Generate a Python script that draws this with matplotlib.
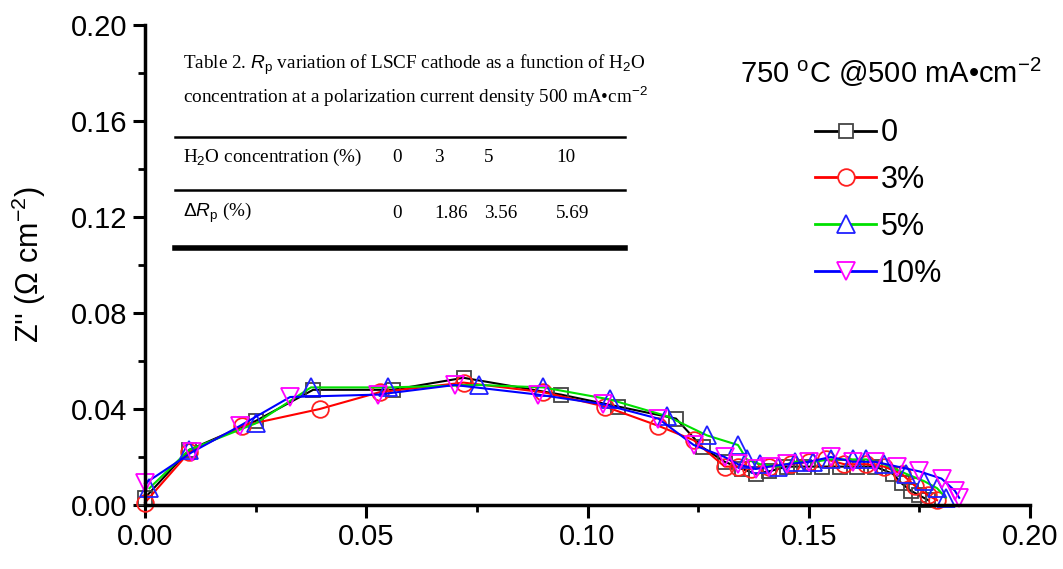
import matplotlib
matplotlib.use("Agg")
import matplotlib.pyplot as plt
from matplotlib.ticker import MultipleLocator, FormatStrFormatter
from matplotlib.lines import Line2D

plt.rcParams['font.family'] = ['Liberation Sans', 'DejaVu Sans']
plt.rcParams['mathtext.fontset'] = 'custom'
plt.rcParams['mathtext.rm'] = 'Liberation Sans'
plt.rcParams['mathtext.it'] = 'Liberation Sans:italic'

# ---------------- data ----------------
x_0 = [0.000, 0.010, 0.025, 0.038, 0.056, 0.072, 0.094, 0.107, 0.120, 0.126, 0.131,
       0.135, 0.138, 0.141, 0.145, 0.149, 0.153, 0.157, 0.161, 0.165, 0.169, 0.171,
       0.173, 0.175, 0.177]
y_0 = [0.003, 0.023, 0.035, 0.048, 0.048, 0.053, 0.046, 0.041, 0.036, 0.024, 0.018,
       0.015, 0.013, 0.014, 0.016, 0.016, 0.016, 0.016, 0.016, 0.016, 0.013, 0.009,
       0.006, 0.004, 0.002]

x_3 = [0.000, 0.010, 0.022, 0.0395, 0.053, 0.072, 0.090, 0.104, 0.116, 0.124, 0.131,
       0.134, 0.137, 0.141, 0.146, 0.150, 0.154, 0.158, 0.163, 0.167, 0.171, 0.174,
       0.177, 0.179]
y_3 = [0.001, 0.022, 0.033, 0.040, 0.047, 0.051, 0.047, 0.041, 0.033, 0.027, 0.016,
       0.016, 0.015, 0.016, 0.017, 0.018, 0.019, 0.017, 0.017, 0.016, 0.013, 0.008,
       0.004, 0.002]

x_5 = [0.001, 0.010, 0.025, 0.0375, 0.055, 0.0755, 0.090, 0.105, 0.118, 0.127, 0.134,
       0.136, 0.139, 0.143, 0.147, 0.151, 0.155, 0.160, 0.163, 0.167, 0.172, 0.176,
       0.179, 0.181]
y_5 = [0.007, 0.023, 0.034, 0.049, 0.049, 0.050, 0.049, 0.044, 0.037, 0.029, 0.025,
       0.019, 0.017, 0.016, 0.018, 0.018, 0.019, 0.019, 0.019, 0.017, 0.013, 0.010,
       0.007, 0.003]

x_10 = [0.000, 0.0106, 0.0215, 0.0328, 0.0527, 0.070, 0.0888, 0.1035, 0.116, 0.124,
        0.131, 0.134, 0.138, 0.141, 0.145, 0.150, 0.155, 0.160, 0.165, 0.170, 0.175,
        0.180, 0.183, 0.184]
y_10 = [0.009, 0.022, 0.033, 0.045, 0.046, 0.050, 0.046, 0.042, 0.036, 0.025, 0.020,
        0.017, 0.015, 0.016, 0.017, 0.018, 0.020, 0.018, 0.018, 0.016, 0.014, 0.011,
        0.006, 0.003]

series_labels = ['0', '3%', '5%', '10%']
table_header = 'H$_2$O concentration (%)'
h2o_conc = ['0', '3', '5', '10']
delta_rp = ['0', '1.86', '3.56', '5.69']

# ---------------- figure ----------------
W, H = 1063, 569
fig = plt.figure(figsize=(W / 100, H / 100), dpi=100)
ax = fig.add_axes([145 / W, (H - 505) / H, (1030 - 145) / W, (505 - 25) / H])

styles = [
    dict(color='black', marker='s', mec='#444444', ms=10),
    dict(color='#ff0000', marker='o', mec='#ff2020', ms=12),
    dict(color='#00e000', marker='^', mec='#2020ff', ms=13),
    dict(color='#0000ff', marker='v', mec='#ff00ff', ms=13),
]
data = [(x_0, y_0), (x_3, y_3), (x_5, y_5), (x_10, y_10)]
for (xs, ys), st, lab in zip(data, styles, series_labels):
    ax.plot(xs, ys, color=st['color'], lw=1.5, marker=st['marker'], ms=st['ms'],
            mfc='none', mec=st['mec'], mew=1.3, label=lab, clip_on=False)

ax.set_xlim(0, 0.20)
ax.set_ylim(0, 0.20)
ax.xaxis.set_major_locator(MultipleLocator(0.05))
ax.xaxis.set_minor_locator(MultipleLocator(0.025))
ax.yaxis.set_major_locator(MultipleLocator(0.04))
ax.yaxis.set_minor_locator(MultipleLocator(0.02))
ax.xaxis.set_major_formatter(FormatStrFormatter('%.2f'))
ax.yaxis.set_major_formatter(FormatStrFormatter('%.2f'))
for s in ['top', 'right']:
    ax.spines[s].set_visible(False)
for s in ['left', 'bottom']:
    ax.spines[s].set_linewidth(2.5)
ax.tick_params(which='major', direction='out', length=9, width=2.2, labelsize=21,
               colors='black', pad=4)
ax.tick_params(which='minor', direction='out', length=5, width=2.0)
ax.set_ylabel("Z'' ($\\Omega$ cm$^{-2}$)", fontsize=22, labelpad=16)

# legend title and legend
fig.text(740 / W, 1 - 72 / H, '750 $^{\\rm o}$C @500 mA\u2022cm$^{-2}$', fontsize=21,
         ha='left', va='center')
handles = [Line2D([], [], color=st['color'], lw=2, marker=st['marker'], ms=st['ms'],
                  mfc='white', mec=st['mec'], mew=1.3) for st in styles]
leg = ax.legend(handles, series_labels, loc='upper left',
                bbox_to_anchor=(800 / W, 1 - 103 / H), bbox_transform=fig.transFigure,
                frameon=False, fontsize=22, handlelength=2.0, handletextpad=0.15,
                labelspacing=0.55, borderpad=0)

# inset table (serif)
serif = ['Liberation Serif', 'DejaVu Serif']
fs = 13.8
fig.text(183 / W, 1 - 65 / H,
         'Table 2. $\\mathit{R}_{\\rm p}$ variation of LSCF cathode as a function of H$_2$O',
         fontsize=fs, family=serif, ha='left', va='center')
fig.text(183 / W, 1 - 97 / H,
         'concentration at a polarization current density 500 mA\u2022cm$^{-2}$',
         fontsize=fs, family=serif, ha='left', va='center')
for yy, lw in [(137, 1.8), (190, 1.8), (248, 4.0)]:
    fig.add_artist(Line2D([175 / W, 625 / W], [1 - yy / H, 1 - yy / H],
                          transform=fig.transFigure, color='black', lw=lw))
col_x = [392, 434, 484, 556]
fig.text(183 / W, 1 - 157 / H, table_header, fontsize=fs, family=serif,
         ha='left', va='center')
fig.text(183 / W, 1 - 213 / H, '$\\Delta\\mathit{R}_{\\rm p}$ (%)', fontsize=fs,
         family=serif, ha='left', va='center')
for cx, a, b in zip(col_x, h2o_conc, delta_rp):
    fig.text(cx / W, 1 - 157 / H, a, fontsize=fs, family=serif, ha='left', va='center')
    fig.text(cx / W, 1 - 213 / H, b, fontsize=fs, family=serif, ha='left', va='center')

fig.savefig('out.png', dpi=100)
